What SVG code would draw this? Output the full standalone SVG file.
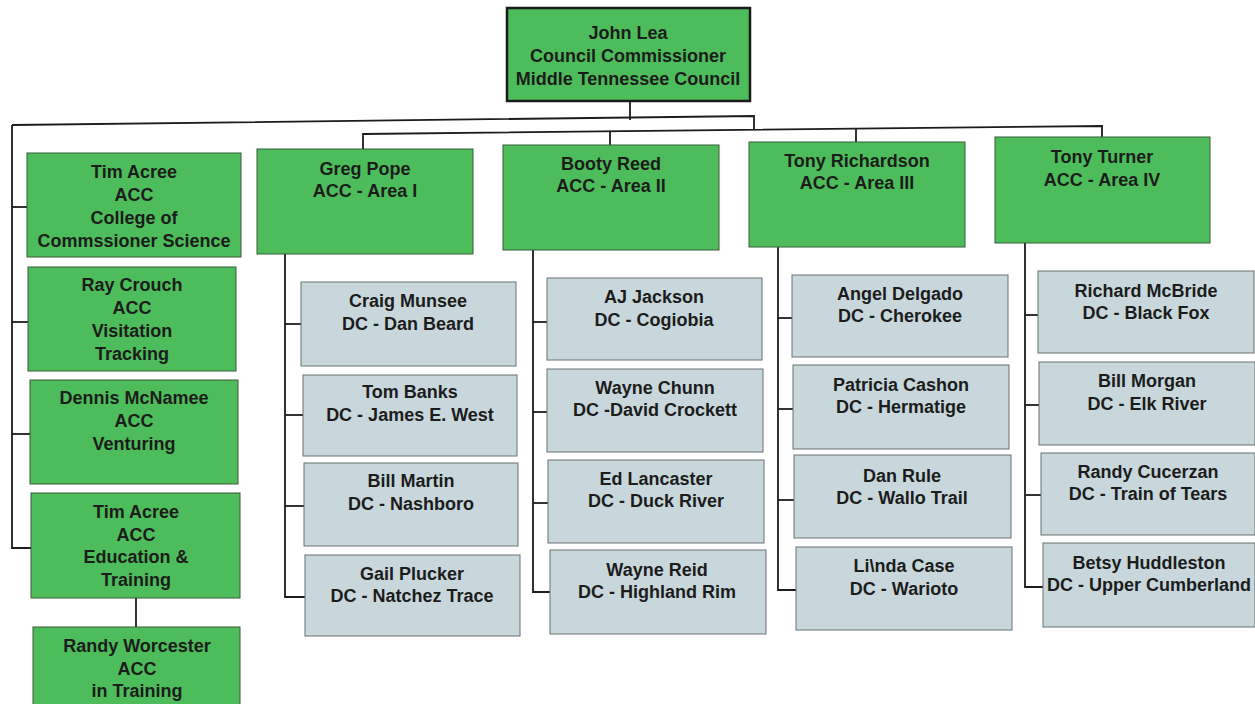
<svg xmlns="http://www.w3.org/2000/svg" width="1255" height="704" viewBox="0 0 1255 704">
<style>
.g{fill:#4dbd5b;stroke:#3a5a3a;stroke-width:1}
.b{fill:#c7d7db;stroke:#6a7070;stroke-width:1}
.top{fill:#4dbd5b;stroke:#1a1a1a;stroke-width:2.5}
text{font-family:"Liberation Sans",Arial,sans-serif;font-weight:bold;font-size:18px;fill:#1c1c1c;text-anchor:middle}
.c{fill:none;stroke:#1c1c1c;stroke-width:1.8}
</style>
<rect width="1255" height="704" fill="#ffffff"/>
<g id="connectors" class="c">
<polyline points="630,101 630,120"/>
<polyline points="12,125 754,116 754,129"/>
<polyline points="363,149 363,134 1102,126 1102,137"/>
<line x1="610" y1="131" x2="610" y2="145"/>
<line x1="856" y1="129" x2="856" y2="142"/>
<polyline points="12,125 12,548 31,548"/>
<line x1="12" y1="207" x2="27" y2="207"/>
<line x1="12" y1="322" x2="28" y2="322"/>
<line x1="12" y1="434" x2="30" y2="434"/>
<line x1="136" y1="598" x2="136" y2="627"/>
<polyline points="285,254 285,597 305,597"/>
<line x1="285" y1="324" x2="301" y2="324"/>
<line x1="285" y1="415" x2="303" y2="415"/>
<line x1="285" y1="506" x2="304" y2="506"/>
<polyline points="533,250 533,592 550,592"/>
<line x1="533" y1="322" x2="547" y2="322"/>
<line x1="533" y1="412" x2="547" y2="412"/>
<line x1="533" y1="503" x2="548" y2="503"/>
<polyline points="778,247 778,590 796,590"/>
<line x1="778" y1="318" x2="792" y2="318"/>
<line x1="778" y1="409" x2="793" y2="409"/>
<line x1="778" y1="500" x2="794" y2="500"/>
<polyline points="1025,243 1025,587 1043,587"/>
<line x1="1025" y1="315" x2="1038" y2="315"/>
<line x1="1025" y1="405" x2="1039" y2="405"/>
<line x1="1025" y1="495" x2="1041" y2="495"/>
</g>
<g id="john-lea"><rect class="top" x="507" y="8" width="243" height="93"/>
<text x="628" y="39">John Lea</text><text x="628" y="62">Council Commissioner</text><text x="628" y="85">Middle Tennessee Council</text></g>
<g id="tim-acree-college"><rect class="g" x="27" y="153" width="214" height="104"/>
<text x="134" y="178">Tim Acree</text><text x="134" y="201">ACC</text><text x="134" y="224">College of</text><text x="134" y="247">Commssioner Science</text></g>
<g id="ray-crouch"><rect class="g" x="28" y="267" width="208" height="104"/>
<text x="132" y="291">Ray Crouch</text><text x="132" y="314">ACC</text><text x="132" y="337">Visitation</text><text x="132" y="360">Tracking</text></g>
<g id="dennis-mcnamee"><rect class="g" x="30" y="380" width="208" height="104"/>
<text x="134" y="404">Dennis McNamee</text><text x="134" y="427">ACC</text><text x="134" y="450">Venturing</text></g>
<g id="tim-acree-education"><rect class="g" x="31" y="493" width="209" height="105"/>
<text x="136" y="518">Tim Acree</text><text x="136" y="541">ACC</text><text x="136" y="563">Education &amp;</text><text x="136" y="586">Training</text></g>
<g id="randy-worcester"><rect class="g" x="33" y="627" width="207" height="90"/>
<text x="137" y="652">Randy Worcester</text><text x="137" y="675">ACC</text><text x="137" y="697">in Training</text></g>
<g id="greg-pope"><rect class="g" x="257" y="149" width="216" height="105"/>
<text x="365" y="175">Greg Pope</text><text x="365" y="197">ACC - Area I</text></g>
<g id="booty-reed"><rect class="g" x="503" y="145" width="216" height="105"/>
<text x="611" y="170">Booty Reed</text><text x="611" y="192">ACC - Area II</text></g>
<g id="tony-richardson"><rect class="g" x="749" y="142" width="216" height="105"/>
<text x="857" y="167">Tony Richardson</text><text x="857" y="189">ACC - Area III</text></g>
<g id="tony-turner"><rect class="g" x="995" y="137" width="215" height="106"/>
<text x="1102" y="163">Tony Turner</text><text x="1102" y="186">ACC - Area IV</text></g>
<g id="craig-munsee"><rect class="b" x="301" y="282" width="215" height="84"/>
<text x="408" y="307">Craig Munsee</text><text x="408" y="330">DC - Dan Beard</text></g>
<g id="tom-banks"><rect class="b" x="303" y="375" width="214" height="81"/>
<text x="410" y="398">Tom Banks</text><text x="410" y="421">DC - James E. West</text></g>
<g id="bill-martin"><rect class="b" x="304" y="463" width="214" height="83"/>
<text x="411" y="487">Bill Martin</text><text x="411" y="510">DC - Nashboro</text></g>
<g id="gail-plucker"><rect class="b" x="305" y="555" width="215" height="81"/>
<text x="412" y="580">Gail Plucker</text><text x="412" y="602">DC - Natchez Trace</text></g>
<g id="aj-jackson"><rect class="b" x="547" y="278" width="215" height="82"/>
<text x="654" y="303">AJ Jackson</text><text x="654" y="326">DC - Cogiobia</text></g>
<g id="wayne-chunn"><rect class="b" x="547" y="369" width="216" height="83"/>
<text x="655" y="394">Wayne Chunn</text><text x="655" y="416">DC -David Crockett</text></g>
<g id="ed-lancaster"><rect class="b" x="548" y="460" width="216" height="83"/>
<text x="656" y="485">Ed Lancaster</text><text x="656" y="507">DC - Duck River</text></g>
<g id="wayne-reid"><rect class="b" x="550" y="550" width="216" height="84"/>
<text x="657" y="576">Wayne Reid</text><text x="657" y="598">DC - Highland Rim</text></g>
<g id="angel-delgado"><rect class="b" x="792" y="275" width="216" height="82"/>
<text x="900" y="300">Angel Delgado</text><text x="900" y="322">DC - Cherokee</text></g>
<g id="patricia-cashon"><rect class="b" x="793" y="365" width="216" height="84"/>
<text x="901" y="391">Patricia Cashon</text><text x="901" y="413">DC - Hermatige</text></g>
<g id="dan-rule"><rect class="b" x="794" y="455" width="217" height="83"/>
<text x="902" y="482">Dan Rule</text><text x="902" y="504">DC - Wallo Trail</text></g>
<g id="linda-case"><rect class="b" x="796" y="547" width="216" height="83"/>
<text x="904" y="572">Li\nda Case</text><text x="904" y="595">DC - Warioto</text></g>
<g id="richard-mcbride"><rect class="b" x="1038" y="271" width="216" height="82"/>
<text x="1146" y="297">Richard McBride</text><text x="1146" y="319">DC - Black Fox</text></g>
<g id="bill-morgan"><rect class="b" x="1039" y="362" width="216" height="83"/>
<text x="1147" y="387">Bill Morgan</text><text x="1147" y="410">DC - Elk River</text></g>
<g id="randy-cucerzan"><rect class="b" x="1041" y="453" width="214" height="82"/>
<text x="1148" y="478">Randy Cucerzan</text><text x="1148" y="500">DC - Train of Tears</text></g>
<g id="betsy-huddleston"><rect class="b" x="1043" y="543" width="212" height="84"/>
<text x="1149" y="569">Betsy Huddleston</text><text x="1149" y="591">DC - Upper Cumberland</text></g>
</svg>
